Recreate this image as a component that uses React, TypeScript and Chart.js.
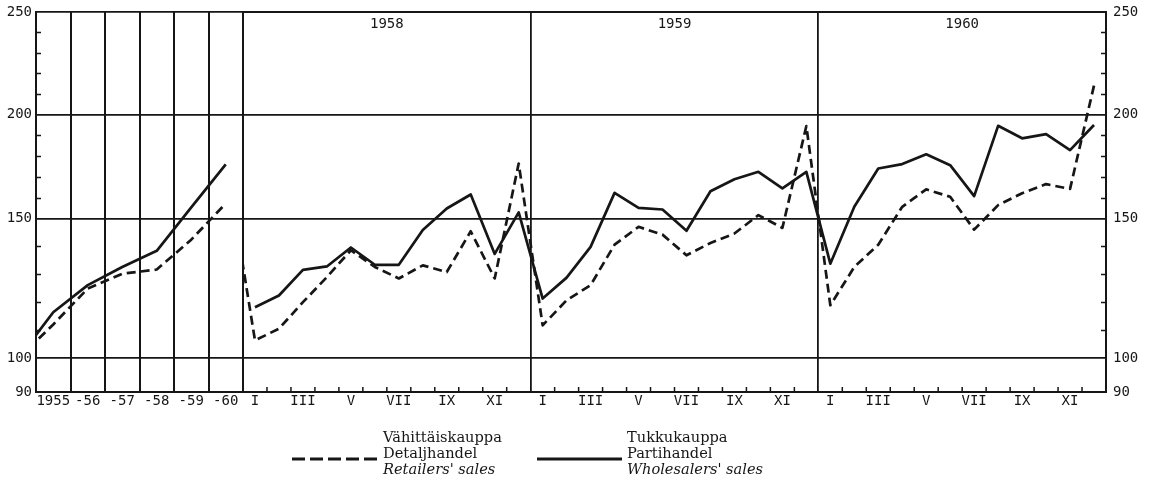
import React, { useEffect, useRef } from 'react';
import { Chart, registerables, LinearScale } from 'chart.js';

const INK = '#161616';

// ---- y axis (the original uses a stretched, piecewise vertical scale) ----
const Y_LABEL_VALUES = [90, 100, 150, 200, 250];
const Y_MINOR_VALUES = [110, 120, 130, 140, 160, 170, 180, 190, 210, 220, 230, 240];
const Y_KNOT_VALUES = [90, 100, 150, 200, 250];
const Y_KNOT_FRACTIONS = [0, 0.0895, 0.4567, 0.7306, 1];

// ---- annual panel (1954 = 100 is the base the lines start from) ----
const ANNUAL_YEARS = [1954, 1955, 1956, 1957, 1958, 1959, 1960];
const ANNUAL_LABELS = ['1955', '-56', '-57', '-58', '-59', '-60'];
const ANNUAL_RETAIL = [100, 112.0, 124.9, 130.2, 131.7, 142.4, 157.2];
const ANNUAL_WHOLESALE = [100, 116.4, 126.1, 132.6, 138.4, 155.3, 176.0];

// ---- monthly panel: Dec 1957, then Jan 1958 ... Dec 1960 ----
const YEAR_LABELS = ['1958', '1959', '1960'];
const MONTH_LABELS = ['I', 'III', 'V', 'VII', 'IX', 'XI'];
const MONTHLY_RETAIL = [
  163,
  106.3, 110.5, 120.0, 129.0, 138.6, 132.6, 128.5, 133.2, 130.8, 145.4, 128.5, 176.4,
  111.7, 120.7, 126.1, 140.6, 147.0, 144.2, 136.8, 141.2, 144.6, 151.6, 146.6, 194.4,
  118.9, 132.6, 140.6, 155.6, 164.0, 160.4, 146.0, 156.4, 162.1, 166.5, 164.2, 214.1,
];
const MONTHLY_WHOLESALE = [
  null,
  118.2, 122.4, 131.6, 132.8, 139.6, 133.4, 133.4, 145.9, 154.8, 161.5, 137.3, 152.9,
  121.3, 128.8, 139.8, 162.3, 155.1, 154.3, 145.6, 163.1, 168.8, 172.4, 164.4, 172.4,
  133.8, 155.6, 174.0, 176.1, 180.8, 175.6, 160.7, 194.5, 188.5, 190.5, 182.8, 194.9,
];

const LEGEND_RETAIL = ['Vähittäiskauppa', 'Detaljhandel', "Retailers' sales"];
const LEGEND_WHOLESALE = ['Tukkukauppa', 'Partihandel', "Wholesalers' sales"];

const MONO = "'DejaVu Sans Mono', 'Liberation Mono', monospace";
const SERIF = "'DejaVu Serif', 'Liberation Serif', serif";

function valueToFraction(v: number): number {
  const K = Y_KNOT_VALUES;
  const F = Y_KNOT_FRACTIONS;
  let i = 1;
  while (i < K.length - 1 && v > K[i]) i++;
  return F[i - 1] + ((v - K[i - 1]) * (F[i] - F[i - 1])) / (K[i] - K[i - 1]);
}
function fractionToValue(f: number): number {
  const K = Y_KNOT_VALUES;
  const F = Y_KNOT_FRACTIONS;
  let i = 1;
  while (i < F.length - 1 && f > F[i]) i++;
  return K[i - 1] + ((f - F[i - 1]) * (K[i] - K[i - 1])) / (F[i] - F[i - 1]);
}

class PiecewiseScale extends LinearScale {
  static id = 'piecewise';
  getPixelForValue(value: any) {
    if (value === null || value === undefined || Number.isNaN(value)) return NaN;
    return this.getPixelForDecimal(valueToFraction(value));
  }
  getValueForPixel(pixel: number) {
    return fractionToValue(this.getDecimalForPixel(pixel));
  }
}

Chart.register(...registerables, PiecewiseScale as any);

const panelDecor = {
  id: 'panelDecor',
  afterDraw(chart: any, _args: any, opts: any) {
    const { ctx, chartArea: a, scales } = chart;
    ctx.save();
    ctx.strokeStyle = INK;
    ctx.lineWidth = 1.5;
    ctx.beginPath();
    for (const v of Y_MINOR_VALUES) {
      const py = Math.round(scales.y.getPixelForValue(v)) + 0.5;
      if (opts.side === 'left') {
        ctx.moveTo(a.left, py);
        ctx.lineTo(a.left + 5, py);
      } else {
        ctx.moveTo(a.right - 5, py);
        ctx.lineTo(a.right, py);
      }
    }
    if (opts.months) {
      for (let m = 1; m < 36; m++) {
        if (m % 12 === 0) continue;
        const px = scales.x.getPixelForValue(m);
        ctx.moveTo(px, a.bottom);
        ctx.lineTo(px, a.bottom - 5);
      }
    }
    ctx.stroke();
    if (opts.years) {
      ctx.fillStyle = INK;
      ctx.font = `14px ${MONO}`;
      ctx.textAlign = 'center';
      ctx.textBaseline = 'middle';
      YEAR_LABELS.forEach((label, i) => {
        ctx.fillText(label, scales.x.getPixelForValue(i * 12 + 6), a.top + 12);
      });
    }
    ctx.restore();
  },
};

const tickFont = { family: MONO, size: 14 };

function yScale(position: 'left' | 'right', width: number, padding: number) {
  return {
    type: 'piecewise',
    position,
    min: 90,
    max: 250,
    afterBuildTicks: (s: any) => {
      s.ticks = Y_LABEL_VALUES.map((v) => ({ value: v }));
    },
    afterFit: (s: any) => {
      s.width = width;
      s.paddingTop = 0;
      s.paddingBottom = 0;
    },
    ticks: {
      callback: (v: any) => String(v),
      font: tickFont,
      color: INK,
      padding,
      autoSkip: false,
    },
    grid: { color: INK, lineWidth: 1.7, drawTicks: false },
    border: { color: INK, width: 2 },
  };
}

function lineDataset(label: string, data: any[], dashed: boolean) {
  return {
    label,
    data,
    borderColor: INK,
    backgroundColor: INK,
    borderWidth: 2.7,
    borderDash: dashed ? [9, 5] : [],
    borderJoinStyle: 'round',
    pointRadius: 0,
    fill: false,
    tension: 0,
  };
}

export default function App() {
  const leftRef = useRef<HTMLCanvasElement>(null);
  const rightRef = useRef<HTMLCanvasElement>(null);

  useEffect(() => {
    const left = new Chart(leftRef.current as HTMLCanvasElement, {
      type: 'line',
      data: {
        datasets: [
          lineDataset(LEGEND_RETAIL[0], ANNUAL_YEARS.map((x, i) => ({ x, y: ANNUAL_RETAIL[i] })), true),
          lineDataset(LEGEND_WHOLESALE[0], ANNUAL_YEARS.map((x, i) => ({ x, y: ANNUAL_WHOLESALE[i] })), false),
        ] as any,
      },
      options: {
        responsive: false,
        animation: false,
        events: [],
        layout: { padding: { left: 0, right: 907, top: 12, bottom: 65 } },
        plugins: {
          legend: { display: false },
          tooltip: { enabled: false },
          panelDecor: { side: 'left' },
        } as any,
        scales: {
          x: {
            type: 'linear',
            min: 1954.5,
            max: 1960.5,
            afterBuildTicks: (s: any) => {
              s.ticks = ANNUAL_YEARS.slice(1).map((v) => ({ value: v }));
            },
            afterFit: (s: any) => {
              s.height = 30;
            },
            ticks: {
              callback: (_v: any, i: number) => ANNUAL_LABELS[i],
              font: tickFont,
              color: INK,
              padding: 1,
              autoSkip: false,
              maxRotation: 0,
            },
            grid: { offset: true, color: INK, lineWidth: 2, drawTicks: false },
            border: { color: INK, width: 2 },
          },
          y: yScale('left', 36, 4),
        } as any,
      },
      plugins: [panelDecor],
    });

    const right = new Chart(rightRef.current as HTMLCanvasElement, {
      type: 'line',
      data: {
        datasets: [
          lineDataset(LEGEND_RETAIL[0], MONTHLY_RETAIL.map((y, i) => ({ x: i - 0.5, y })), true),
          lineDataset(LEGEND_WHOLESALE[0], MONTHLY_WHOLESALE.map((y, i) => ({ x: i - 0.5, y })), false),
        ] as any,
      },
      options: {
        responsive: false,
        animation: false,
        events: [],
        layout: { padding: { left: 243, right: 4, top: 12, bottom: 65 } },
        plugins: {
          legend: { display: false },
          tooltip: { enabled: false },
          panelDecor: { side: 'right', months: true, years: true },
        } as any,
        scales: {
          x: {
            type: 'linear',
            position: 'bottom',
            min: 0,
            max: 36,
            afterBuildTicks: (s: any) => {
              const t: any[] = [];
              for (let y = 0; y < YEAR_LABELS.length; y++) {
                MONTH_LABELS.forEach((_l, k) => t.push({ value: y * 12 + k * 2 + 0.5 }));
              }
              s.ticks = t;
            },
            afterFit: (s: any) => {
              s.height = 30;
            },
            ticks: {
              callback: (_v: any, i: number) => MONTH_LABELS[i % MONTH_LABELS.length],
              font: tickFont,
              color: INK,
              padding: 1,
              autoSkip: false,
              maxRotation: 0,
            },
            grid: { display: false, drawTicks: false },
            border: { color: INK, width: 2 },
          },
          xYears: {
            type: 'linear',
            position: 'top',
            min: 0,
            max: 36,
            afterBuildTicks: (s: any) => {
              s.ticks = [0, 1, 2, 3].map((k) => ({ value: k * 12 }));
            },
            afterFit: (s: any) => {
              s.height = 0;
            },
            ticks: { display: false },
            grid: { color: INK, lineWidth: 1.8, drawTicks: false },
            border: { color: INK, width: 2 },
          },
          y: yScale('right', 40, 7),
        } as any,
      },
      plugins: [panelDecor],
    });

    return () => {
      left.destroy();
      right.destroy();
    };
  }, []);

  const canvasStyle: React.CSSProperties = { position: 'absolute', left: 0, top: 0 };
  const textBlock = (lines: string[], left: number) => (
    <div
      style={{
        position: 'absolute',
        left,
        top: 429,
        fontFamily: SERIF,
        fontSize: 14.6,
        lineHeight: '16px',
        color: INK,
        whiteSpace: 'nowrap',
      }}
    >
      <div>{lines[0]}</div>
      <div>{lines[1]}</div>
      <div style={{ fontStyle: 'italic' }}>{lines[2]}</div>
    </div>
  );

  return (
    <div
      style={{
        position: 'absolute',
        left: 0,
        top: 0,
        width: 1150,
        height: 487,
        background: '#ffffff',
        overflow: 'hidden',
      }}
    >
      <canvas ref={leftRef} width={1150} height={487} style={canvasStyle} />
      <canvas ref={rightRef} width={1150} height={487} style={canvasStyle} />
      <svg style={{ position: 'absolute', left: 290, top: 454, width: 90, height: 10 }}>
        <line x1={2} y1={5} x2={87} y2={5} stroke={INK} strokeWidth={3} strokeDasharray="13 5" />
      </svg>
      {textBlock(LEGEND_RETAIL, 383)}
      <svg style={{ position: 'absolute', left: 535, top: 454, width: 90, height: 10 }}>
        <line x1={2} y1={5} x2={87} y2={5} stroke={INK} strokeWidth={3} />
      </svg>
      {textBlock(LEGEND_WHOLESALE, 627)}
    </div>
  );
}
